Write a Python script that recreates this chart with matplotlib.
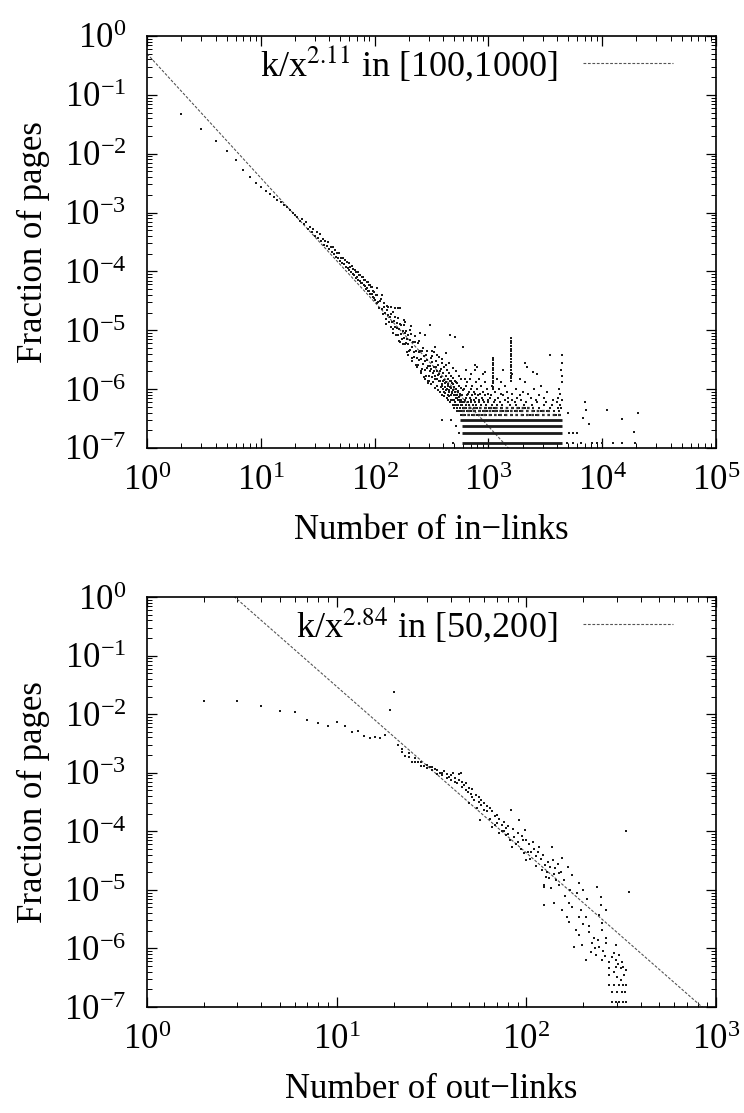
import matplotlib
matplotlib.use("Agg")
import matplotlib.pyplot as plt
import numpy as np

# ---------------- data: in-links ----------------
in_head_k = [2, 3, 4, 5, 6, 7, 8, 9, 10, 11, 12, 13, 14, 15, 16, 17, 18, 19, 20]
in_head_frac = [0.047, 0.026, 0.0165, 0.0112, 0.0078, 0.0053, 0.0040, 0.0032, 0.0027,
                0.00235, 0.0021, 0.00185, 0.00165, 0.0015, 0.00135, 0.00122, 0.0011,
                0.0010, 0.00092]

in_body_k = list(range(21, 101))
in_body_frac = [8.4e-4, 7.2e-4, 7.8e-4, 6.4e-4, 6.8e-4, 5.2e-4, 5.7e-4, 4.7e-4, 5.3e-4, 4.05e-4,
                4.6e-4, 3.7e-4, 4.25e-4, 3.25e-4, 3.55e-4, 2.8e-4, 3.35e-4, 2.75e-4, 3.2e-4, 2.4e-4,
                2.65e-4, 2.1e-4, 2.6e-4, 2.0e-4, 2.3e-4, 1.75e-4, 2.05e-4, 1.7e-4, 2.05e-4, 1.53e-4,
                1.7e-4, 1.38e-4, 1.7e-4, 1.33e-4, 1.55e-4, 1.17e-4, 1.43e-4, 1.13e-4, 1.4e-4, 1.04e-4,
                1.2e-4, 9.9e-5, 1.22e-4, 8.9e-5, 1.1e-4, 8.7e-5, 1.05e-4, 7.8e-5, 9.8e-5, 8.0e-5,
                9.7e-5, 7.1e-5, 8.6e-5, 7.0e-5, 8.7e-5, 6.3e-5, 7.9e-5, 6.4e-5, 8.1e-5, 5.8e-5,
                7.2e-5, 5.7e-5, 7.1e-5, 5.1e-5, 6.6e-5, 5.2e-5, 6.7e-5, 4.7e-5, 5.9e-5, 4.6e-5,
                5.9e-5, 4.2e-5, 5.4e-5, 4.2e-5, 5.4e-5, 3.7e-5, 4.6e-5, 3.6e-5, 4.5e-5, 3.3e-5]

in_mid_k = [102, 104, 106, 108, 110, 112, 114, 116, 118, 120, 122, 124, 126, 128, 130, 132,
            134, 136, 138, 140, 142, 144, 146, 148, 150, 152, 154, 156, 158, 160, 162, 164,
            166, 168, 170, 172, 174, 176, 178, 180, 182, 184, 186, 188, 190, 192, 194, 196,
            198, 200, 203, 206, 209, 212, 215, 218, 221, 224, 227, 230, 233, 236, 239, 242,
            245, 248, 251, 254, 257, 260, 263, 266, 269, 272, 275, 278, 281, 284, 287, 290,
            293, 296, 299,
            105, 115, 128, 140, 150, 160, 167, 307, 275, 125, 145, 165, 185, 205, 225, 245,
            265, 195, 215, 235, 255, 275, 295, 180, 210, 250, 290]
in_mid_frac = [4.0e-5, 2.9e-5, 3.9e-5, 3.0e-5, 2.4e-5, 3.2e-5, 3.4e-5, 2.3e-5, 1.9e-5, 2.5e-5,
               2.9e-5, 2.0e-5, 1.55e-5, 2.2e-5, 1.8e-5, 2.5e-5, 1.4e-5, 1.7e-5, 1.15e-5, 1.9e-5,
               1.38e-5, 2.05e-5, 1.07e-5, 1.44e-5, 1.12e-5, 1.66e-5, 8.4e-6, 1.32e-5, 1.1e-5, 1.62e-5,
               8.4e-6, 1.05e-5, 1.27e-5, 6.4e-6, 8.5e-6, 1.24e-5, 7.1e-6, 9.6e-6, 5.9e-6, 1.23e-5,
               7.5e-6, 5.8e-6, 9.0e-6, 6.2e-6, 9.9e-6, 4.3e-6, 7.0e-6, 5.9e-6, 8.3e-6, 4.5e-6,
               6.8e-6, 4.6e-6, 8.5e-6, 3.4e-6, 5.1e-6, 6.4e-6, 3.5e-6, 4.3e-6, 6.4e-6, 2.55e-6,
               4.5e-6, 3.4e-6, 6.1e-6, 2.6e-6, 4.3e-6, 3.1e-6, 4.5e-6, 2.0e-6, 3.3e-6, 4.5e-6,
               2.2e-6, 2.7e-6, 3.6e-6, 1.6e-6, 3.0e-6, 2.1e-6, 3.8e-6, 1.65e-6, 2.3e-6, 3.1e-6,
               1.4e-6, 2.5e-6, 1.65e-6,
               5.2e-5, 4.0e-5, 2.6e-5, 2.5e-5, 2.4e-5, 2.4e-5, 2.4e-5, 1.23e-5, 8.3e-6, 1.3e-5,
               9.0e-6, 6.5e-6, 1.4e-5, 1.0e-5, 8.0e-6, 6.5e-6, 5.0e-6, 3.8e-6, 3.0e-6, 2.4e-6,
               1.9e-6, 1.5e-6, 1.25e-6, 1.5e-5, 1.2e-5, 9.0e-6, 4.5e-6]

in_low_k = [305, 310, 315, 320, 325, 330, 335, 340, 345, 350, 355, 360, 365, 370, 375, 380,
            385, 390, 395, 400, 405, 410, 415, 420, 425, 430, 435, 440, 445, 450, 455, 460,
            465, 470, 475, 480, 485, 490, 495, 500, 505, 510, 515, 520, 525, 530, 540, 545,
            550, 555, 560, 565, 570, 575, 580, 585, 590, 595, 600,
            320, 350, 380, 410, 440, 470, 500, 530, 560, 340, 395, 420, 455, 485, 520, 550,
            580, 460, 510, 600, 760, 930, 390, 470, 490, 520, 550,
            302, 308, 312, 318, 322, 328, 332, 338, 342, 348, 352, 358, 362, 368, 372, 378,
            382, 388, 392, 398, 402, 408, 412, 418, 422, 428, 432, 438, 442, 448, 452, 458,
            462, 468, 472, 478, 482, 488, 492, 498, 502, 508, 512, 518, 522, 528, 532, 538,
            542, 548, 552, 558, 562, 568, 572, 578, 582, 588]
in_low_frac = [2.5e-6, 3.4e-6, 2.2e-6, 2.9e-6, 1.9e-6, 4.2e-6, 2.4e-6, 1.7e-6, 3.0e-6, 2.0e-6,
               1.5e-6, 2.6e-6, 1.8e-6, 3.5e-6, 1.35e-6, 2.2e-6, 1.6e-6, 2.8e-6, 1.2e-6, 1.9e-6,
               1.45e-6, 2.4e-6, 1.1e-6, 1.7e-6, 1.3e-6, 2.1e-6, 1.0e-6, 1.5e-6, 1.15e-6, 1.9e-6,
               9.5e-7, 1.35e-6, 1.05e-6, 1.7e-6, 8.5e-7, 1.25e-6, 9.5e-7, 1.55e-6, 7.8e-7, 1.1e-6,
               8.8e-7, 1.4e-6, 7.2e-7, 1.0e-6, 8.0e-7, 1.25e-6, 6.6e-7, 9.2e-7, 7.3e-7, 1.15e-6,
               6.0e-7, 8.4e-7, 6.6e-7, 1.05e-6, 5.4e-7, 7.8e-7, 6.0e-7, 9.5e-7, 4.8e-7,
               4.5e-6, 3.8e-6, 1.1e-6, 9.0e-7, 7.8e-7, 6.6e-7, 5.4e-7, 4.8e-7, 4.2e-7, 5.2e-6,
               3.3e-6, 4.1e-6, 2.8e-6, 2.3e-6, 2.0e-6, 1.7e-6, 1.5e-6, 8.3e-6, 7.8e-6, 5.2e-6,
               2.6e-6, 1.95e-6, 3.0e-7, 3.0e-7, 1.2e-7, 2.4e-7, 1.8e-7,
               1.4e-6, 2.0e-6, 1.2e-6, 1.6e-6, 3.6e-6, 1.3e-6, 2.0e-6, 1.05e-6, 1.5e-6, 2.4e-6,
               1.15e-6, 1.75e-6, 9.5e-7, 1.4e-6, 2.0e-6, 9.0e-7, 1.6e-6, 1.15e-6, 8.0e-7, 1.4e-6,
               1.0e-6, 7.5e-7, 1.25e-6, 8.5e-7, 2.6e-6, 9.5e-7, 7.0e-7, 1.2e-6, 6.5e-7, 9.0e-7,
               7.5e-7, 1.1e-6, 6.0e-7, 8.0e-7, 1.4e-6, 6.6e-7, 9.0e-7, 5.4e-7, 1.2e-6, 6.6e-7,
               4.8e-7, 7.8e-7, 6.0e-7, 1.3e-6, 5.4e-7, 7.2e-7, 4.2e-7, 9.0e-7, 5.4e-7, 6.6e-7,
               4.2e-7, 7.8e-7, 4.8e-7, 6.0e-7, 3.6e-7, 6.6e-7, 4.2e-7, 5.4e-7]

in_cloud_k = [620, 680, 720, 800, 870, 950, 1050, 1150, 1250, 1400, 1600, 1800, 2000, 2300, 2600, 3000, 3400, 3900, 4300,
              610, 650, 700, 760, 840, 900, 980, 1100, 1200, 1350, 1500, 1700, 1900, 2200, 2500, 2900, 3300, 3800, 4200,
              600, 640, 690, 740, 790, 850, 930, 1010, 1130, 1300, 1450, 1650, 1850, 2100, 2450, 2800, 3500, 4100, 4350,
              630, 670, 730, 780, 860, 960, 1080, 1180, 1320, 1550, 1750, 2050, 2400, 3100, 3600, 4250,
              615, 660, 710, 770, 830, 920, 1000, 1120, 1260, 1480, 1700, 2150, 2700, 3200, 4000,
              625, 700, 750, 820, 890, 990, 1150, 1400, 1620, 1950, 2600, 3700, 4400,
              640, 690, 780, 880, 1030, 1220, 1500, 1800, 2350, 3050, 4100,
              650, 720, 810, 940, 1060, 1350, 1900, 2800,
              660, 760, 850, 1000, 1280, 1600, 2250, 4300,
              680, 740, 900, 1150, 1450, 2000, 3300,
              610, 700, 800, 970, 1250, 1750, 2500, 4200,
              630, 720, 860, 1080, 1400, 2900,
              650, 780, 930, 1300, 2100, 4400,
              620, 690, 830, 1200, 1900,
              700, 900, 1600, 2700,
              640, 760, 1350, 4350,
              800, 2200,
              2100, 2450, 3450, 4400, 4450, 4450]
in_cloud_frac = [3.6e-7] * 19 + [4.2e-7] * 19 + [4.8e-7] * 19 + [5.4e-7] * 16 + [6.0e-7] * 15 \
    + [6.6e-7] * 13 + [7.2e-7] * 11 + [7.8e-7] * 8 + [8.4e-7] * 8 + [9.0e-7] * 7 \
    + [1.02e-6] * 8 + [1.14e-6] * 6 + [1.32e-6] * 6 + [1.5e-6] * 5 + [1.8e-6] * 4 \
    + [2.1e-6] * 4 + [2.4e-6] * 2 \
    + [2.8e-6, 1.95e-6, 3.8e-6, 3.8e-6, 2.8e-6, 1.7e-6]

in_spike1_k = [1100] * 13
in_spike1_frac = [3.4e-6, 3.1e-6, 2.8e-6, 2.55e-6, 2.3e-6, 2.1e-6, 1.9e-6, 1.7e-6, 1.55e-6,
                  1.4e-6, 1.25e-6, 1.1e-6, 1.0e-6]
in_spike2_k = [1580] * 17
in_spike2_frac = [7.4e-6, 6.7e-6, 6.0e-6, 5.4e-6, 4.9e-6, 4.4e-6, 4.0e-6, 3.6e-6, 3.2e-6,
                  2.9e-6, 2.6e-6, 2.35e-6, 2.1e-6, 1.9e-6, 1.7e-6, 1.55e-6, 1.4e-6]

in_tail_k = [5000, 7100, 7200, 6800, 7600, 11000, 15000, 20600, 19000,
             5100, 5500, 6000, 4900, 5500, 6500, 8200, 9000, 10000, 12500, 15000, 19500]
in_tail_frac = [4.0e-7, 6.0e-7, 4.4e-7, 3.2e-7, 2.6e-7, 4.4e-7, 3.1e-7, 3.9e-7, 1.9e-7,
                1.8e-7, 1.8e-7, 1.8e-7, 1.2e-7, 1.2e-7, 1.2e-7, 1.2e-7, 1.2e-7, 1.2e-7,
                1.2e-7, 1.2e-7, 1.2e-7]

# rows of pages sharing the same small count (solid rows, then broken rows)
band_frac = [1.2e-7, 1.8e-7, 2.4e-7, 3.0e-7]
band_start = [590, 590, 590, 560]
band_end = [4450, 4450, 4450, 4450]
row_frac = [3.6e-7, 4.2e-7, 4.8e-7]
row_start = [590, 590, 600]
row_end = [4450, 3600, 2500]

# ---------------- data: out-links ----------------
out_k = [2, 3, 4, 5, 6, 7, 8, 9, 10, 11, 12, 13, 14, 15, 16, 17, 18, 19, 20,
         21, 22, 23, 24, 25, 26, 27, 28, 29, 30, 31, 32, 33, 34, 35, 36, 37, 38, 39, 40,
         41, 42, 43, 44, 45, 46, 47, 48, 49, 50, 51, 52, 53, 55, 56, 57, 58, 60, 62, 64,
         66, 68, 70, 72, 74, 76, 78, 80, 83, 84, 86, 90, 92, 94, 96, 98, 100, 103, 106,
         110, 113, 117, 121, 124, 127, 130, 134, 137, 140, 144, 149, 155,
         124, 135, 149, 190, 236, 348, 336,
         124, 140, 155, 168, 195, 248, 248, 264,
         163, 168, 207, 242, 251,
         183, 190, 214, 228, 251, 264,
         179, 197, 220, 242, 264, 298,
         207, 234, 251, 284, 309, 273, 298, 320,
         273, 298, 316, 336,
         273, 301, 328,
         273, 309, 336,
         284, 320,
         284, 309, 336,
         22, 24, 26, 28, 30, 32, 34, 36, 38, 40, 42, 44, 46, 48, 50, 52, 54, 56, 58, 60,
         62, 64, 66, 68, 70, 72, 74, 76, 78, 80, 82, 85, 88, 90, 95, 97, 100, 102, 105, 108,
         112, 115, 119, 123, 126, 129, 132, 139, 142, 146, 152, 158, 165, 170, 175, 185,
         200, 210, 160, 175, 190, 200, 215, 222, 230, 240, 255, 260, 290, 305, 325, 290,
         315, 290, 325, 300, 330, 296, 322]
out_frac = [0.017, 0.017, 0.0138, 0.0114, 0.011, 0.0079, 0.0071, 0.0063, 0.0072, 0.0063,
            0.0050, 0.0052, 0.0043, 0.0039, 0.0041, 0.0039, 0.0044, 0.0116, 0.024,
            3.0e-3, 2.5e-3, 1.9e-3, 2.2e-3, 1.5e-3, 1.8e-3, 1.5e-3, 1.5e-3, 1.3e-3, 1.2e-3,
            1.25e-3, 1.1e-3, 1.15e-3, 1.1e-3, 1.0e-3, 9.1e-4, 1.05e-3, 8.0e-4, 8.6e-4, 7.4e-4,
            1.0e-3, 7.0e-4, 6.6e-4, 9.5e-4, 1.0e-3, 5.7e-4, 6.2e-4, 5.0e-4, 4.7e-4, 3.0e-4,
            4.3e-4, 3.8e-4, 3.4e-4, 2.5e-4, 3.2e-4, 1.55e-4, 2.8e-4, 2.3e-4, 2.2e-4, 1.6e-4,
            1.2e-4, 1.8e-4, 1.4e-4, 9.4e-5, 1.3e-4, 1.0e-4, 1.15e-4, 9.0e-5, 2.3e-4, 5.4e-5,
            8.0e-5, 6.5e-5, 1.55e-4, 5.0e-5, 7.0e-5, 1.05e-4, 3.2e-5, 6.0e-5, 4.5e-5,
            5.0e-5, 3.8e-5, 5.4e-5, 2.2e-5, 1.12e-5, 1.66e-5, 3.0e-5, 2.5e-5, 5.4e-5, 1.9e-5,
            1.48e-5, 1.95e-5, 3.5e-5,
            1.22e-5, 1.07e-5, 1.22e-5, 1.32e-5, 1.12e-5, 9.3e-6, 1.0e-4,
            5.5e-6, 6.0e-6, 4.6e-6, 6.0e-6, 4.6e-6, 7.6e-6, 5.5e-6, 4.6e-6,
            3.5e-6, 2.8e-6, 3.5e-6, 3.7e-6, 2.75e-6,
            2.1e-6, 1.7e-6, 1.9e-6, 1.5e-6, 2.1e-6, 1.5e-6,
            1.07e-6, 1.15e-6, 8.7e-7, 1.07e-6, 1.25e-6, 1.15e-6,
            6.4e-7, 7.8e-7, 6.4e-7, 7.2e-7, 7.8e-7, 5.9e-7, 6.4e-7, 5.9e-7,
            4.7e-7, 4.9e-7, 4.7e-7, 4.3e-7,
            3.5e-7, 3.3e-7, 3.5e-7,
            2.4e-7, 2.4e-7, 2.4e-7,
            1.8e-7, 1.8e-7,
            1.23e-7, 1.23e-7, 1.23e-7,
            2.3e-3, 1.85e-3, 1.5e-3, 1.3e-3, 1.35e-3, 1.25e-3, 9.5e-4, 1.0e-3, 9.5e-4, 9.0e-4,
            8.2e-4, 7.6e-4, 7.0e-4, 6.6e-4, 5.5e-4, 5.2e-4, 4.1e-4, 3.9e-4, 3.4e-4, 3.0e-4,
            2.7e-4, 2.5e-4, 2.2e-4, 1.3e-4, 1.9e-4, 1.6e-4, 1.0e-4, 1.45e-4, 8.5e-5, 1.25e-4,
            7.2e-5, 1.1e-4, 6.0e-5, 9.5e-5, 8.2e-5, 4.3e-5, 7.0e-5, 4.5e-5, 3.3e-5, 6.5e-5,
            2.6e-5, 4.4e-5, 3.4e-5, 4.0e-5, 2.7e-5, 2.0e-5, 1.6e-5, 3.2e-5, 2.4e-5, 2.8e-5,
            2.0e-5, 1.5e-5, 2.5e-5, 1.0e-5, 1.8e-5, 9.0e-6, 1.0e-5, 7.0e-6, 8.0e-6, 5.0e-6,
            3.5e-6, 2.6e-6, 2.4e-6, 1.25e-6, 1.0e-6, 1.4e-6, 9.0e-7, 7.5e-7, 8.5e-7, 5.5e-7,
            4.9e-7, 3.9e-7, 2.9e-7, 2.4e-7, 2.4e-7, 1.8e-7, 1.8e-7, 1.23e-7, 1.23e-7]

# fitted power laws
in_fit_k, in_fit_exp = 0.5, 2.11
out_fit_k, out_fit_exp = 20.5, 2.84
in_fit_label = r"k/x$^{2.11}$ in [100,1000]"
out_fit_label = r"k/x$^{2.84}$ in [50,200]"

# ---------------- style ----------------
plt.rcParams['font.family'] = ['Liberation Serif', 'DejaVu Serif']
plt.rcParams['mathtext.fontset'] = 'stix'
plt.rcParams['font.size'] = 25
plt.rcParams['axes.linewidth'] = 1.2

fig = plt.figure(figsize=(7.44, 11.13), dpi=100)
W, H = 744, 1113
ax1 = fig.add_axes([147 / W, 1 - 448 / H, (716 - 147) / W, (448 - 36) / H])
ax2 = fig.add_axes([147 / W, 1 - 1007 / H, (716 - 147) / W, (1007 - 597) / H])

dot = dict(linestyle='none', marker='s', markersize=1.75, color='#1a1a1a', mew=0)
fitstyle = dict(color='#555555', linewidth=0.8, linestyle=(0, (2.5, 1.5)))

# top panel
xs = np.logspace(0, 5, 400)
ax1.plot(xs, in_fit_k / xs ** in_fit_exp, label=in_fit_label, **fitstyle)
for kk, ff in [(in_head_k, in_head_frac), (in_body_k, in_body_frac), (in_mid_k, in_mid_frac),
               (in_low_k, in_low_frac), (in_cloud_k, in_cloud_frac),
               (in_spike1_k, in_spike1_frac), (in_spike2_k, in_spike2_frac),
               (in_tail_k, in_tail_frac)]:
    ax1.plot(kk, ff, **dot)
ax1.hlines(band_frac, band_start, band_end, colors='#1a1a1a', linewidth=2.0)
ax1.hlines(row_frac, row_start, row_end, colors='#333333', linewidth=1.6,
           linestyles=[(0, (1.2, 1.2))])
ax1.set_xlim(1, 1e5)
ax1.set_ylim(1e-7, 1)

# bottom panel
xs2 = np.logspace(0, 3, 400)
ax2.plot(xs2, out_fit_k / xs2 ** out_fit_exp, label=out_fit_label, **fitstyle)
ax2.plot(out_k, out_frac, **dot)
ax2.set_xlim(1, 1e3)
ax2.set_ylim(1e-7, 1)

for ax, xl in [(ax1, "Number of in\u2212links"), (ax2, "Number of out\u2212links")]:
    ax.set_xscale('log')
    ax.set_yscale('log')
    ax.set_xlabel(xl, labelpad=12)
    ax.set_ylabel("Fraction of pages", labelpad=10)
    ax.tick_params(which='both', direction='in', top=True, right=True)
    ax.tick_params(which='major', length=7, width=0.9, pad=12)
    ax.tick_params(which='minor', length=3.5, width=0.7)
    ax.tick_params(axis='y', which='major', pad=15)
    ax.yaxis.set_major_locator(matplotlib.ticker.LogLocator(base=10, numticks=20))
    ax.yaxis.set_minor_locator(matplotlib.ticker.LogLocator(base=10, subs=np.arange(2, 10), numticks=20))
    ax.xaxis.set_major_locator(matplotlib.ticker.LogLocator(base=10, numticks=20))
    ax.xaxis.set_minor_locator(matplotlib.ticker.LogLocator(base=10, subs=np.arange(2, 10), numticks=20))
    leg = ax.legend(loc='upper right', bbox_to_anchor=(0.937, 0.998), frameon=False,
                    markerfirst=False, handlelength=2.5, handletextpad=0.7,
                    borderaxespad=0.0, borderpad=0.2, fontsize=26)

fig.savefig("out.png", dpi=100)
